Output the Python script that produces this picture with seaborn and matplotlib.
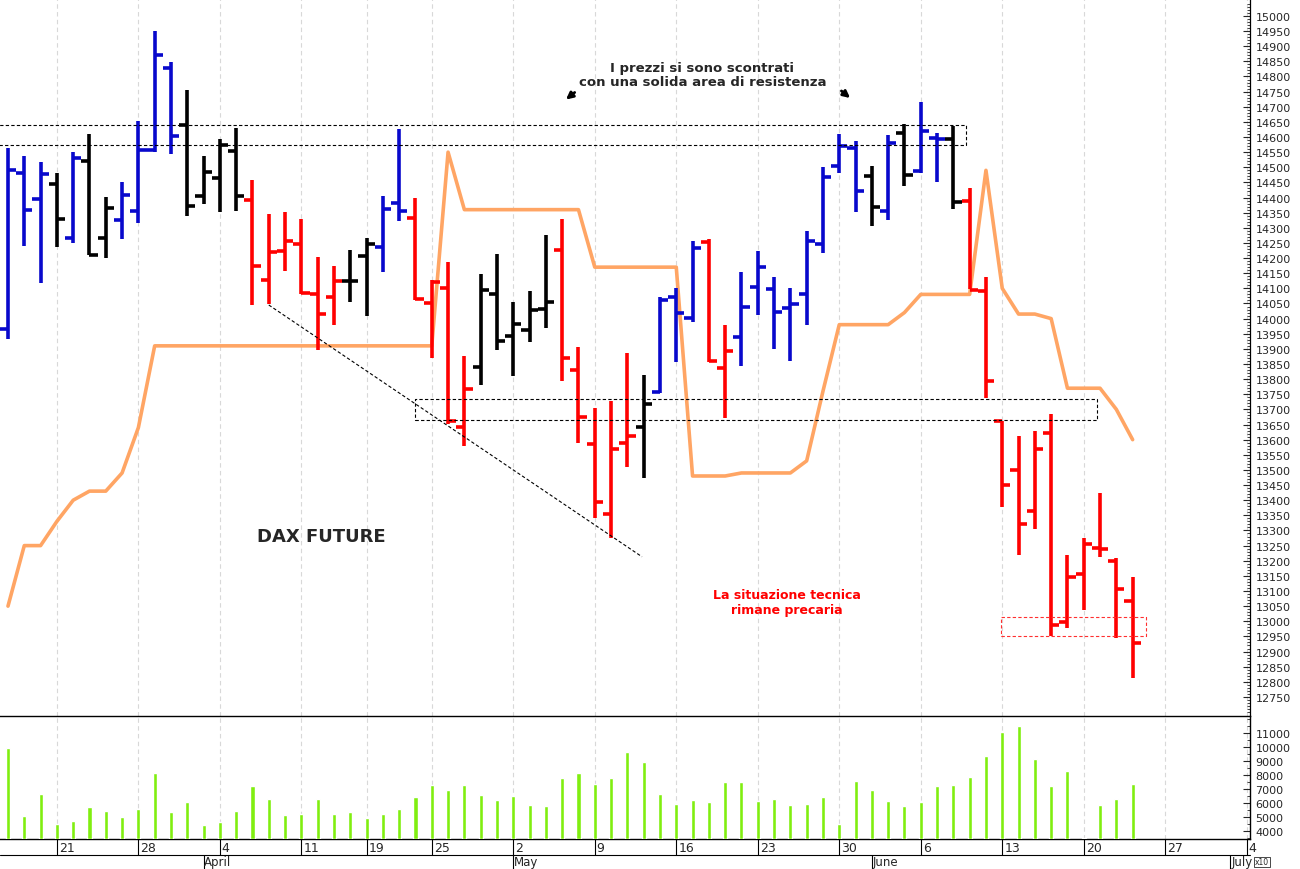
import numpy as np
import pandas as pd
import matplotlib
matplotlib.use("Agg")
import matplotlib.pyplot as plt
import seaborn as sns

sns.set_style("white")
plt.rcParams['font.family'] = ['DejaVu Sans']

# ---- data (per trading day, 16 Mar 2022 .. 23 Jun 2022) ----
opens = [13966,14481,14394,14446,14266,14522,14265,14326,14355,14557,14829,14640,14406,14465,14553,
         14391,14127,14222,14246,14081,14071,14125,14207,14237,14381,14331,14052,14101,13642,13840,
         14080,13943,13961,14032,14228,13831,13586,13355,13590,13641,13758,14071,14001,14252,13836,
         13939,14104,14098,14034,14082,14247,14503,14563,14470,14355,14613,14489,14597,14592,14390,
         14092,13663,13501,13364,13622,12996,13157,13243,13199,13066]
highs = [14563,14536,14516,14481,14549,14609,14401,14453,14652,14951,14847,14754,14536,14592,14631,
         14459,14344,14351,14328,14203,14175,14228,14267,14405,14625,14398,14128,14186,13876,14149,
         14212,14055,14091,14276,14329,13906,13704,13727,13886,13814,14070,14100,14255,14263,13980,
         14155,14225,14137,14100,14291,14500,14610,14586,14504,14608,14643,14717,14613,14635,14430,
         14136,13663,13611,13628,13684,13220,13275,13425,13209,13145]
lows = [13931,14241,14117,14238,14249,14211,14200,14262,14316,14549,14544,14340,14378,14351,14355,
        14045,14048,14156,14081,13897,13979,14054,14007,14153,14322,14062,13871,13652,13579,13779,
        13895,13809,13924,13968,13793,13588,13342,13276,13511,13474,13755,13856,13988,13858,13672,
        13845,14012,13898,13859,13979,14217,14480,14352,14307,14326,14437,14481,14453,14363,14097,
        13738,13379,13220,13306,12950,12979,13037,13211,12944,12813]
closes = [14491,14360,14478,14328,14531,14211,14366,14410,14557,14871,14602,14371,14483,14574,14404,
          14173,14221,14258,14084,14015,14125,14125,14247,14363,14355,14065,14120,13663,13767,14095,
          13927,13983,14030,14054,13869,13674,13394,13570,13612,13718,14062,14019,14233,13859,13892,
          14038,14172,14023,14049,14255,14467,14570,14421,14368,14581,14476,14619,14594,14385,14094,
          13794,13451,13321,13568,12987,13145,13254,13238,13107,12929]
bar_colors = (["b"]*3 + ["k"] + ["b"] + ["k"]*2 + ["b"]*4 + ["k"]*4 + ["r"]*6 + ["k"]*2 + ["b"]*2
              + ["r"]*4 + ["k"]*5 + ["r"]*5 + ["k"] + ["b"]*3 + ["r"]*2 + ["b"]*8 + ["k"] + ["b"]
              + ["k"] + ["b"]*2 + ["k"] + ["r"]*11)
orange_line = [13050,13250,13250,13330,13400,13430,13430,13490,13640,13910,13910,13910,13910,13910,13910,
               13910,13910,13910,13910,13910,13910,13910,13910,13910,13910,13910,13910,14550,14360,14360,
               14360,14360,14360,14360,14360,14360,14170,14170,14170,14170,14170,14170,13480,13480,13480,
               13490,13490,13490,13490,13530,13760,13980,13980,13980,13980,14020,14080,14080,14080,14080,
               14490,14100,14015,14015,14000,13770,13770,13770,13700,13600]
volumes = [9928,5095,6643,4500,4738,5690,5452,4976,5571,8119,5333,6047,4428,4666,5404,7214,6309,5143,
           5214,6309,5214,5333,4904,5214,5595,6452,7286,6928,7286,6595,6190,6524,5833,5786,7762,8119,
           7357,7762,9619,8905,6643,5929,6238,6047,7476,7476,6119,6309,5833,5929,6428,4476,7547,6905,
           6119,5762,6095,7214,7286,7833,9333,11047,11476,9143,7214,8286,3500,5857,6286,7333]

week_idx = [3,8,13,18,22,26,31,36,41,46,51,56,61,66,71,76]
week_labels = ["21","28","4","11","19","25","2","9","16","23","30","6","13","20","27","4"]
month_idx = [12,31,53,75]
month_labels = ["April","May","June","July"]

colmap = {"b": "#0808CC", "k": "#000000", "r": "#FF0000"}
n = len(opens)
idx = np.arange(n)
df = pd.DataFrame({"i": idx, "o": opens, "h": highs, "l": lows, "c": closes,
                   "col": bar_colors, "ma": orange_line, "v": volumes})

fig = plt.figure(figsize=(13, 8.7), dpi=100)
ax = fig.add_axes([0, 153/870, 1250/1300, 717/870])
axv = fig.add_axes([0, 30/870, 1250/1300, 123/870], sharex=ax)

xlim = (-0.49, 76.2)
for a in (ax, axv):
    for wi in week_idx:
        a.axvline(wi, color="#d8d8d8", lw=0.8, ls=(0, (4, 3)), zorder=0)

sns.lineplot(data=df, x="i", y="ma", ax=ax, color="#FFA564", lw=2.6, zorder=2, legend=False)

cols = [colmap[c] for c in bar_colors]
ax.vlines(df.i, df.l, df.h, colors=cols, lw=2.6, zorder=3)
ax.hlines(df.o, df.i - 0.5, df.i, colors=cols, lw=2.6, zorder=3)
ax.hlines(df.c, df.i, df.i + 0.5, colors=cols, lw=2.6, zorder=3)

def box(a, x0, x1, y0, y1, color="k"):
    a.plot([x0, x1, x1, x0, x0], [y0, y0, y1, y1, y0], color=color, lw=0.8,
           ls=(0, (3, 2)), zorder=4)
box(ax, -1, 58.8, 14574, 14640)
box(ax, 25, 66.8, 13665, 13735)
box(ax, 60.9, 69.8, 12951, 13014, color="#FF3030")
ax.plot([16, 38.9], [14045, 13213], color="k", lw=0.8, ls=(0, (3, 2)), zorder=4)

ax.text(19.2, 13283, "DAX FUTURE", fontsize=13, fontweight="bold", ha="center", va="center")
ax.text(42.6, 14808, "I prezzi si sono scontrati\ncon una solida area di resistenza",
        fontsize=9.5, fontweight="bold", ha="center", va="center", linespacing=1.1)
ax.annotate("", xy=(34.1, 14718), xytext=(34.9, 14753),
            arrowprops=dict(arrowstyle="-|>", color="k", lw=2, mutation_scale=10))
ax.annotate("", xy=(51.8, 14723), xytext=(51.0, 14758),
            arrowprops=dict(arrowstyle="-|>", color="k", lw=2, mutation_scale=10))
ax.text(47.8, 13064, "La situazione tecnica\nrimane precaria", fontsize=9, fontweight="bold",
        color="#FF0000", ha="center", va="center", linespacing=1.2)

ax.set_xlim(*xlim)
ax.set_ylim(12687, 15056)
ax.yaxis.tick_right()
ax.set_yticks(np.arange(12750, 15001, 50))
ax.set_yticks(np.arange(12700, 15050, 10), minor=True)
ax.tick_params(axis="y", labelsize=8, length=5, direction="in", pad=4)
ax.tick_params(axis="y", which="minor", length=2, direction="in")
ax.tick_params(axis="x", bottom=False, labelbottom=False)
ax.set_xlabel(""); ax.set_ylabel("")
for s in ["left", "top", "bottom"]:
    ax.spines[s].set_visible(False)
ax.spines["right"].set_color("k")
ax.spines["right"].set_linewidth(0.9)

axv.bar(df.i, df.v - 3430, bottom=3430, width=0.25, color="#80EE10", zorder=3)
axv.set_ylim(3430, 12214)
axv.yaxis.tick_right()
axv.set_yticks(np.arange(4000, 11001, 1000))
axv.set_yticks(np.arange(3500, 12001, 500), minor=True)
axv.tick_params(axis="y", labelsize=8, length=5, direction="in", pad=4)
axv.tick_params(axis="y", which="minor", length=2, direction="in")
axv.set_xticks([])
axv.set_xlim(*xlim)
axv.spines["left"].set_visible(False)
for s in ["right", "bottom", "top"]:
    axv.spines[s].set_color("k")
    axv.spines[s].set_linewidth(1.0)
axv.spines["top"].set_zorder(10)
axv.text(1.004, -0.15, "x10", transform=axv.transAxes, fontsize=5.5, ha="left", va="top",
         bbox=dict(boxstyle="square,pad=0.1", fc="white", ec="k", lw=0.5))

trans = axv.get_xaxis_transform()
for wi, lab in zip(week_idx, week_labels):
    axv.plot([wi, wi], [0, -0.13], transform=trans, color="k", lw=0.8, clip_on=False)
    axv.text(wi + 0.12, -0.015, lab, transform=trans, fontsize=9, ha="left", va="top")
axv.plot([xlim[0], xlim[1]], [-0.13, -0.13], transform=trans, color="k", lw=0.8, clip_on=False)
for mi, lab in zip(month_idx, month_labels):
    axv.plot([mi, mi], [-0.13, -0.26], transform=trans, color="k", lw=0.8, clip_on=False)
    axv.text(mi + 0.05, -0.13, lab, transform=trans, fontsize=8.5, ha="left", va="top")

fig.savefig("out.png", dpi=100)
